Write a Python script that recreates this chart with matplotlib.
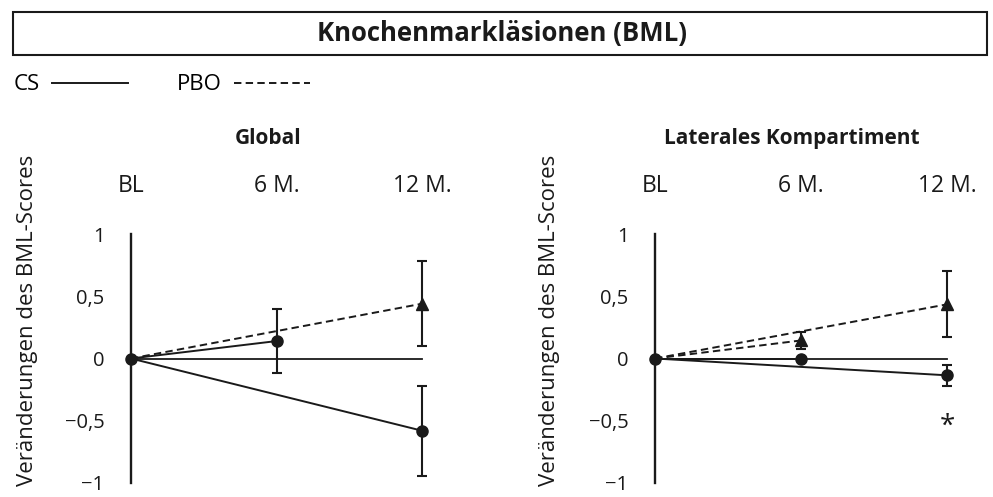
import matplotlib
matplotlib.use('Agg')
import matplotlib.pyplot as plt
import numpy as np
from matplotlib.lines import Line2D
from matplotlib.patches import Rectangle

plt.rcParams['font.family'] = ['Open Sans', 'DejaVu Sans']

# data
time_labels = ['BL', '6 M.', '12 M.']
panels = ['Global', 'Laterales Kompartiment']

cs_mean = [[0.14, -0.58], [0.0, -0.135]]
cs_err = [[0.255, 0.36], [np.nan, 0.085]]
pbo_mean = [[np.nan, 0.44], [0.145, 0.435]]
pbo_err = [[np.nan, 0.34], [0.07, 0.265]]
star_pos = [None, (2, -0.55)]

W, H = 993, 497
ink = '#1a1a1a'
fig = plt.figure(figsize=(W/100, H/100), dpi=100)

def px(x0, y0, x1, y1):
    return [x0/W, 1-y1/H, (x1-x0)/W, (y1-y0)/H]

# title box
fig.patches.append(Rectangle((13/W, 1-55/H), (987-13)/W, 43/H, transform=fig.transFigure,
                             fill=False, ec=ink, lw=1.5))
fig.text(502/W, 1-33.5/H, 'Knochenmarkläsionen (BML)', ha='center', va='center',
         fontsize=18.5, fontweight='bold', color=ink)

dash = (3.8, 2.2)
h_cs = Line2D([], [], color=ink, lw=1.4)
h_pbo = Line2D([], [], color=ink, lw=1.4, dashes=dash)
fig.legend([h_cs, h_pbo], ['CS', 'PBO'], loc='center left', bbox_to_anchor=(14/W, 1-85/H),
           ncol=2, frameon=False, markerfirst=False, fontsize=16, handlelength=3.4,
           handletextpad=0.55, columnspacing=2.2, borderpad=0, borderaxespad=0)

boxes = [px(131, 234, 422, 483), px(655, 234, 947, 483)]
xs = np.arange(1, 3)

for k, ax in enumerate([fig.add_axes(b) for b in boxes]):
    ax.set_xlim(0, 2)
    ax.set_ylim(-1, 1)
    for s in ['top', 'right']:
        ax.spines[s].set_visible(False)
    ax.spines['left'].set_linewidth(1.7)
    ax.spines['left'].set_color(ink)
    ax.spines['bottom'].set_position(('data', 0))
    ax.spines['bottom'].set_linewidth(1.3)
    ax.spines['bottom'].set_color(ink)
    ax.xaxis.tick_top()
    ax.set_xticks([0, 1, 2], time_labels)
    ax.tick_params(axis='x', length=0, pad=26, labelsize=16.5, colors=ink)
    ax.set_yticks([1, 0.5, 0, -0.5, -1], ['1', '0,5', '0', '\u22120,5', '\u22121'])
    ax.tick_params(axis='y', length=0, pad=19, labelsize=14.5, colors=ink)
    ax.set_ylabel('Veränderungen des BML-Scores', fontsize=16, color=ink, va='center')
    ax.yaxis.set_label_coords(-0.355 if k == 0 else -0.36, 0.655)
    ax.set_title(panels[k], fontsize=15, fontweight='bold', color=ink, x=0.47, y=1.36, pad=0)

    for means, errs, mk, ls in [(cs_mean[k], cs_err[k], 'o', '-'), (pbo_mean[k], pbo_err[k], '^', '--')]:
        for x, m, e in zip(xs, means, errs):
            if np.isnan(m):
                continue
            ln, = ax.plot([0, x], [0, m], color=ink, lw=1.4, clip_on=False)
            if ls == '--':
                ln.set_dashes(dash)
            ax.errorbar(x, m, yerr=None if np.isnan(e) else e, fmt=mk, ms=8, color=ink,
                        ecolor=ink, elinewidth=1.5, capsize=3.3, capthick=1.5, clip_on=False)
    ax.plot(0, 0, 'o', ms=8, color=ink, clip_on=False, zorder=5)
    if star_pos[k]:
        ax.text(*star_pos[k], '*', ha='center', va='center', fontsize=20, color=ink)

fig.savefig('out.png', dpi=100)
